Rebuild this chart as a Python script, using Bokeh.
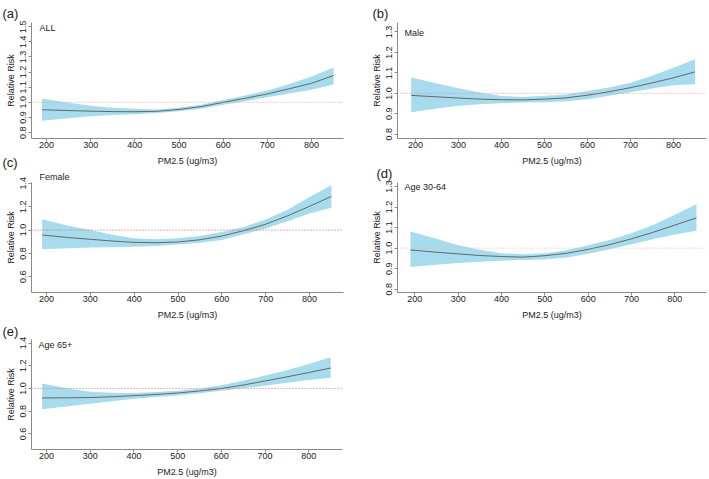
from bokeh.plotting import figure
from bokeh.layouts import column, row
from bokeh.models import Range1d, FixedTicker, PrintfTickFormatter, Span, Label, Title
from bokeh.embed import file_html
from bokeh.resources import INLINE

# ---------------- data ----------------
pm25 = [190, 250, 300, 350, 400, 450, 500, 550, 600, 650, 700, 750, 800, 850]

all_rr = [0.951, 0.946, 0.942, 0.939, 0.938, 0.941, 0.953, 0.972, 1.000, 1.027, 1.056, 1.090, 1.126, 1.177]
all_lo = [0.878, 0.895, 0.908, 0.916, 0.922, 0.930, 0.942, 0.958, 0.985, 1.008, 1.034, 1.058, 1.083, 1.118]
all_hi = [1.025, 0.998, 0.977, 0.965, 0.958, 0.953, 0.965, 0.985, 1.016, 1.046, 1.078, 1.122, 1.170, 1.230]

male_rr = [0.990, 0.983, 0.977, 0.972, 0.969, 0.968, 0.972, 0.978, 0.991, 1.008, 1.028, 1.051, 1.076, 1.105]
male_lo = [0.908, 0.926, 0.940, 0.947, 0.952, 0.955, 0.957, 0.962, 0.971, 0.988, 1.006, 1.024, 1.040, 1.045]
male_hi = [1.078, 1.048, 1.025, 1.004, 0.987, 0.982, 0.988, 0.995, 1.011, 1.029, 1.052, 1.086, 1.125, 1.167]

female_rr = [0.958, 0.936, 0.921, 0.906, 0.895, 0.892, 0.898, 0.917, 0.949, 0.995, 1.050, 1.122, 1.203, 1.288]
female_lo = [0.836, 0.844, 0.850, 0.854, 0.858, 0.864, 0.876, 0.891, 0.915, 0.964, 1.014, 1.076, 1.141, 1.190]
female_hi = [1.093, 1.037, 1.000, 0.959, 0.930, 0.921, 0.930, 0.949, 0.983, 1.026, 1.090, 1.173, 1.282, 1.383]

age3064_rr = [0.991, 0.980, 0.972, 0.964, 0.959, 0.956, 0.963, 0.975, 0.994, 1.017, 1.045, 1.077, 1.112, 1.147]
age3064_lo = [0.908, 0.919, 0.928, 0.934, 0.939, 0.942, 0.944, 0.954, 0.972, 0.994, 1.019, 1.043, 1.066, 1.084]
age3064_hi = [1.081, 1.045, 1.014, 0.992, 0.975, 0.970, 0.975, 0.990, 1.014, 1.040, 1.072, 1.113, 1.162, 1.214]

age65_rr = [0.917, 0.918, 0.920, 0.927, 0.937, 0.947, 0.960, 0.978, 1.000, 1.030, 1.066, 1.102, 1.140, 1.180]
age65_lo = [0.817, 0.843, 0.866, 0.888, 0.909, 0.924, 0.937, 0.957, 0.980, 1.001, 1.023, 1.050, 1.074, 1.094]
age65_hi = [1.043, 1.000, 0.971, 0.962, 0.960, 0.968, 0.980, 1.000, 1.029, 1.068, 1.114, 1.160, 1.215, 1.274]

x_ticks = [200, 300, 400, 500, 600, 700, 800]
y_ticks_a = [0.8, 0.9, 1.0, 1.1, 1.2, 1.3, 1.4, 1.5]
y_ticks_b = [0.8, 0.9, 1.0, 1.1, 1.2, 1.3]
y_ticks_c = [0.6, 0.8, 1.0, 1.2, 1.4]
y_ticks_d = [0.8, 0.9, 1.0, 1.1, 1.2, 1.3]
y_ticks_e = [0.6, 0.8, 1.0, 1.2, 1.4]

panel_tags = ["(a)", "(b)", "(c)", "(d)", "(e)"]
panel_names = ["ALL", "Male", "Female", "Age 30-64", "Age 65+"]
ref_level = 1.0

x_title = "PM2.5 (ug/m3)"
y_title = "Relative Risk"

# ---------------- styling ----------------
FONT = "Liberation Sans"
BAND = "#a6dcee"
LINE = "#666666"
AXIS = "#8a8a8a"
TEXT = "#222222"


def make_panel(fig_box, frame_box, xmap, ymap, rr, lo, hi, yticks, tag, tag_x, tag_valign,
               name, name_pos, ref_color, top_margin=0, transparent=False, name_as_title=False):
    fx, fy, fw, fh = fig_box
    L, R, T, B = frame_box
    (xa, pxa), (xb, pxb) = xmap
    (ya, pya), (yb, pyb) = ymap
    kx = (pxb - pxa) / (xb - xa)
    ky = (pya - pyb) / (yb - ya)

    def px2x(px):
        return xa + (px - pxa) / kx

    def py2y(py):
        return ya + (pya - py) / ky

    p = figure(width=fw, height=fh, title=None,
               x_range=Range1d(px2x(L), px2x(R)),
               y_range=Range1d(py2y(B), py2y(T)),
               min_border_left=L - fx, min_border_right=fx + fw - R,
               min_border_top=T - fy, min_border_bottom=fy + fh - B,
               output_backend="svg", toolbar_location=None, tools="")
    if top_margin:
        p.margin = (top_margin, 0, 0, 0)
    p.outline_line_color = None
    p.xgrid.visible = False
    p.ygrid.visible = False
    p.background_fill_color = "white"
    p.border_fill_color = None if transparent else "white"

    if name_as_title:
        p.add_layout(Title(text=name, align="left", offset=name_pos[0] - L,
                           vertical_align="middle", standoff=0, text_font=FONT,
                           text_font_size="9px", text_font_style="normal",
                           text_color=TEXT), "above")
    p.add_layout(Title(text=tag, align="left", offset=tag_x - L,
                       vertical_align=tag_valign, standoff=0, text_font=FONT,
                       text_font_size="13px", text_font_style="normal",
                       text_color=TEXT), "above")

    p.varea(x=pm25, y1=lo, y2=hi, fill_color=BAND, fill_alpha=1.0)
    p.line(x=pm25, y=rr, line_color=LINE, line_width=1)
    p.add_layout(Span(location=ref_level, dimension="width", line_color=ref_color,
                      line_width=1, line_dash="1 2"))

    p.xaxis.ticker = FixedTicker(ticks=x_ticks)
    p.xaxis.formatter = PrintfTickFormatter(format="%d")
    p.yaxis.ticker = FixedTicker(ticks=yticks)
    p.yaxis.formatter = PrintfTickFormatter(format="%.1f")
    p.yaxis.major_label_orientation = "vertical"
    p.xaxis.axis_label = x_title
    p.yaxis.axis_label = y_title
    for ax in (p.xaxis, p.yaxis):
        ax.minor_tick_line_color = None
        ax.major_tick_in = 0
        ax.major_tick_out = 3
        ax.axis_line_color = AXIS
        ax.major_tick_line_color = AXIS
        ax.major_label_text_font = FONT
        ax.major_label_text_font_size = "9px"
        ax.major_label_text_color = TEXT
        ax.axis_label_text_font = FONT
        ax.axis_label_text_font_size = "9px"
        ax.axis_label_text_font_style = "normal"
        ax.axis_label_text_color = TEXT
    p.xaxis.major_label_standoff = 0
    p.xaxis.axis_label_standoff = 5
    p.yaxis.major_label_standoff = 2
    p.yaxis.axis_label_standoff = 2

    if not name_as_title:
        p.add_layout(Label(x=px2x(name_pos[0]), y=py2y(name_pos[1]), text=name,
                           text_font=FONT, text_font_size="9px", text_color=TEXT,
                           text_align="left", text_baseline="middle"))
    return p


pa = make_panel((0, 0, 355, 168), (31, 343, 19, 140), ((200, 46), (800, 311)),
                ((1.0, 102.3), (0.8, 133.9)), all_rr, all_lo, all_hi, y_ticks_a,
                panel_tags[0], 2, "top", panel_names[0], (39, 24.5), "#e89a9a")
pb = make_panel((355, 0, 354, 168), (397, 706, 22, 141), ((200, 415), (800, 673)),
                ((1.0, 94.7), (0.8, 136.7)), male_rr, male_lo, male_hi, y_ticks_b,
                panel_tags[1], 372, "top", panel_names[1], (404, 32.5), "#e58f8f")
pc = make_panel((0, 152, 355, 170), (31, 343, 182, 293), ((200, 46), (800, 309)),
                ((1.0, 230), (0.6, 277.2)), female_rr, female_lo, female_hi, y_ticks_c,
                panel_tags[2], 2, "middle", panel_names[2], (39, 178.5), "#d85f5f",
                top_margin=-16, transparent=True, name_as_title=True)
pd_ = make_panel((355, 152, 354, 170), (397, 706, 180, 294), ((200, 414.3), (800, 674.3)),
                 ((1.0, 248), (0.8, 290.6)), age3064_rr, age3064_lo, age3064_hi, y_ticks_d,
                 panel_tags[3], 376, "top", panel_names[3], (404, 185), "#e0b4b4",
                 top_margin=-16, transparent=True)
pe = make_panel((0, 322, 355, 157), (31, 342, 339, 452), ((200, 46), (800, 308.3)),
                ((1.0, 389.3), (0.6, 436)), age65_rr, age65_lo, age65_hi, y_ticks_e,
                panel_tags[4], 2, "middle", panel_names[4], (38, 345), "#e07a7a")

layout = column(row(pa, pb), row(pc, pd_), row(pe))
open("out.html", "w").write(file_html(layout, INLINE))
